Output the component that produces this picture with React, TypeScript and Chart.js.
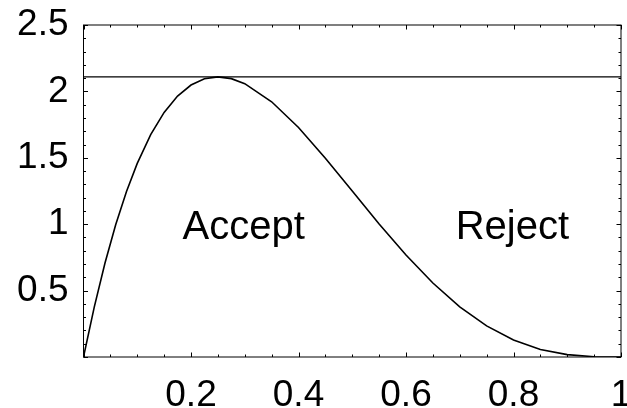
import React, { useEffect, useRef } from "react";
import { Chart, registerables } from "chart.js";

Chart.register(...registerables);

const xValues = [0, 0.02, 0.04, 0.06, 0.08, 0.1, 0.125, 0.15, 0.175, 0.2, 0.225, 0.25, 0.275, 0.3, 0.35, 0.4, 0.45, 0.5, 0.55, 0.6, 0.65, 0.7, 0.75, 0.8, 0.85, 0.9, 0.95, 1];
const densityValues = [0, 0.376, 0.708, 0.997, 1.246, 1.458, 1.675, 1.842, 1.965, 2.048, 2.095, 2.109, 2.096, 2.058, 1.922, 1.728, 1.497, 1.25, 1.002, 0.768, 0.557, 0.378, 0.234, 0.128, 0.057, 0.018, 0.002, 0];
const boundLevel = 2.109;
const xTickLabels = ["0.2", "0.4", "0.6", "0.8", "1"];
const yTickLabels = ["0.5", "1", "1.5", "2", "2.5"];
const regionLabels = [
  { text: "Accept", x: 0.298, y: 0.889 },
  { text: "Reject", x: 0.798, y: 0.889 },
];

const FONT = "'Liberation Sans', Arial, Helvetica, sans-serif";

const framePlugin = {
  id: "frameTicks",
  afterDatasetsDraw(chart: any) {
    const { ctx, chartArea } = chart;
    const xs = chart.scales.x;
    const ys = chart.scales.y;
    ctx.save();
    ctx.strokeStyle = "#000";
    ctx.lineWidth = 1;
    ctx.strokeRect(chartArea.left, chartArea.top, chartArea.right - chartArea.left, chartArea.bottom - chartArea.top);
    for (let i = 0; i <= 20; i++) {
      const v = i * 0.05;
      const px = Math.round(xs.getPixelForValue(v)) + 0.5;
      const major = i % 4 === 0;
      const len = major ? 4.5 : 2.5;
      ctx.beginPath();
      ctx.moveTo(px, chartArea.bottom);
      ctx.lineTo(px, chartArea.bottom - len);
      ctx.moveTo(px, chartArea.top);
      ctx.lineTo(px, chartArea.top + len);
      ctx.stroke();
    }
    for (let i = 0; i <= 25; i++) {
      const v = i * 0.1;
      const py = Math.round(ys.getPixelForValue(v)) + 0.5;
      const major = i % 5 === 0;
      const len = major ? 4.5 : 2.5;
      ctx.beginPath();
      ctx.moveTo(chartArea.left, py);
      ctx.lineTo(chartArea.left + len, py);
      ctx.moveTo(chartArea.right, py);
      ctx.lineTo(chartArea.right - len, py);
      ctx.stroke();
    }
    ctx.fillStyle = "#000";
    ctx.font = `40px ${FONT}`;
    ctx.textAlign = "center";
    ctx.textBaseline = "alphabetic";
    for (const r of regionLabels) {
      ctx.fillText(r.text, xs.getPixelForValue(r.x), ys.getPixelForValue(r.y));
    }
    ctx.restore();
  },
};

const fmt = (v: number) => String(Number(Number(v).toFixed(2)));

export default function App() {
  const ref = useRef<HTMLCanvasElement | null>(null);
  useEffect(() => {
    document.body.style.margin = "0";
    const canvas = ref.current!;
    const chart = new Chart(canvas, {
      type: "line",
      data: {
        datasets: [
          {
            data: xValues.map((x, i) => ({ x, y: densityValues[i] })),
            borderColor: "#000",
            borderWidth: 1.6,
            pointRadius: 0,
            tension: 0,
            fill: false,
          },
          {
            data: [
              { x: 0, y: boundLevel },
              { x: 1, y: boundLevel },
            ],
            borderColor: "#000",
            borderWidth: 1.4,
            pointRadius: 0,
            fill: false,
          },
        ],
      },
      options: {
        animation: false,
        responsive: false,
        events: [],
        layout: { padding: { top: 25, right: 6, left: 0, bottom: 0 } },
        plugins: { legend: { display: false }, tooltip: { enabled: false } },
        scales: {
          x: {
            type: "linear",
            min: 0,
            max: 1,
            border: { display: false },
            grid: { display: false, drawTicks: false },
            ticks: {
              stepSize: 0.2,
              padding: 17,
              color: "#000",
              font: { family: FONT, size: 37 },
              maxRotation: 0,
              autoSkip: false,
              callback: (v: any) => {
                const s = fmt(v);
                return xTickLabels.includes(s) ? s : "";
              },
            },
            afterFit: (s: any) => {
              s.height = 51;
              s.paddingLeft = 0;
              s.paddingRight = 0;
            },
          },
          y: {
            type: "linear",
            min: 0,
            max: 2.5,
            border: { display: false },
            grid: { display: false, drawTicks: false },
            ticks: {
              stepSize: 0.5,
              padding: 15,
              color: "#000",
              font: { family: FONT, size: 37 },
              autoSkip: false,
              callback: (v: any) => {
                const s = fmt(v);
                return yTickLabels.includes(s) ? s : "";
              },
            },
            afterFit: (s: any) => {
              s.width = 83.5;
              s.paddingTop = 0;
              s.paddingBottom = 0;
            },
          },
        },
      },
      plugins: [framePlugin],
    });
    return () => chart.destroy();
  }, []);
  return (
    <div style={{ position: "relative", width: 627, height: 408 }}>
      <canvas ref={ref} width={627} height={408} style={{ width: 627, height: 408, display: "block" }} />
    </div>
  );
}
